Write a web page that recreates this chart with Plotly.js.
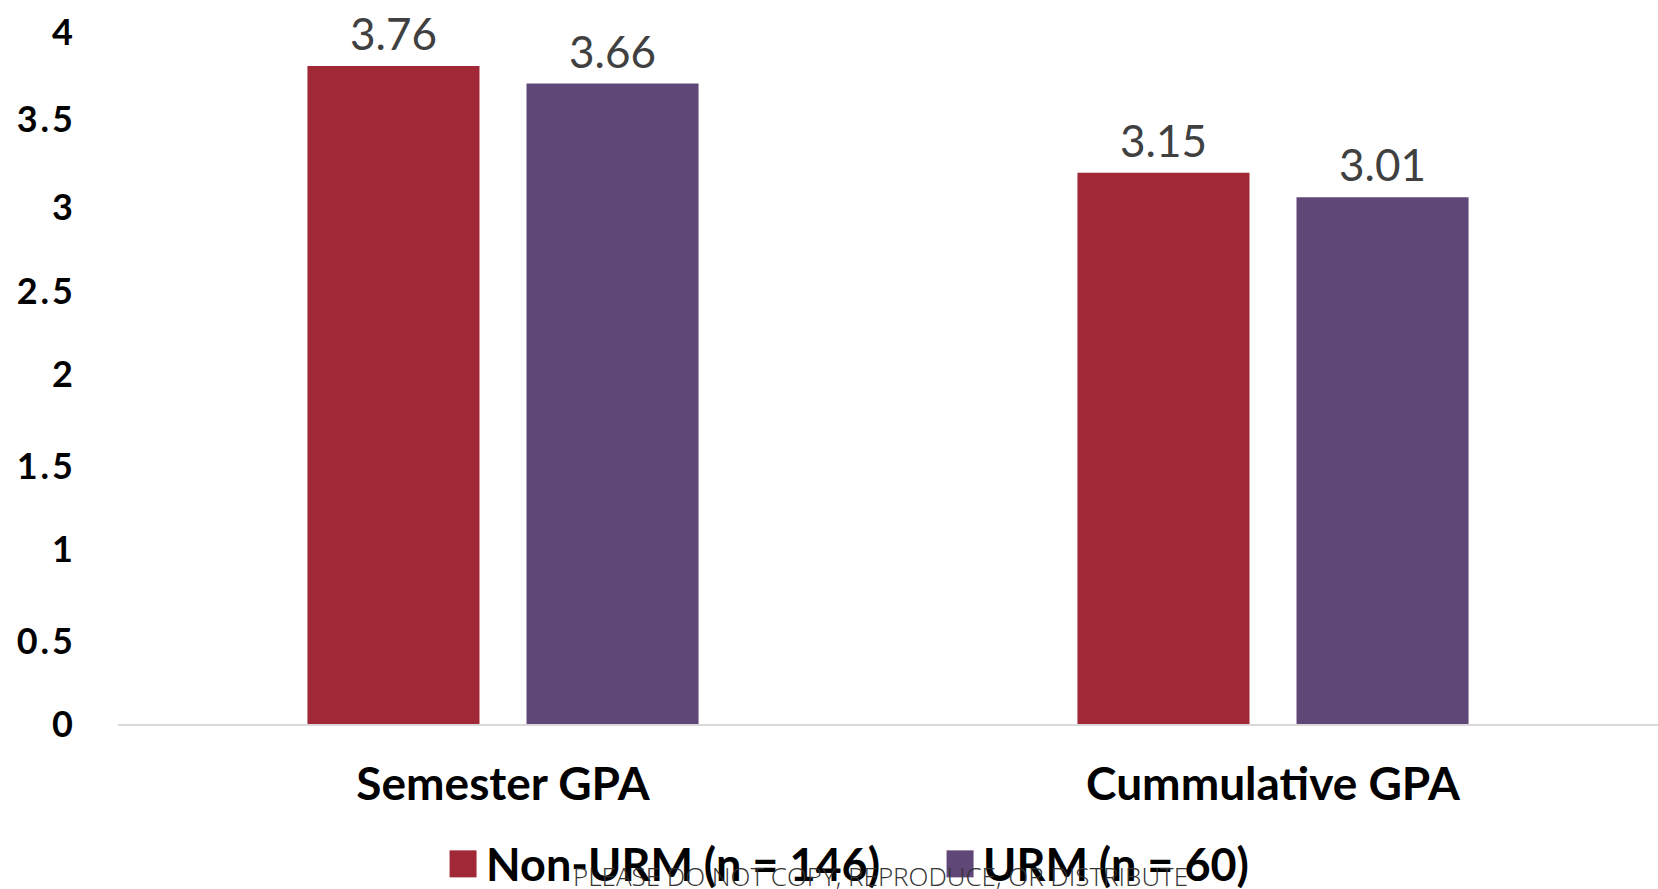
<!DOCTYPE html>
<html>
<head>
<meta charset="utf-8">
<script src="https://cdn.plot.ly/plotly-3.0.1.min.js"></script>
<style>
html,body{margin:0;padding:0;background:#fff;}
#chart{width:1658px;height:889px;}
#chart .ytick text{letter-spacing:3px;}
</style>
</head>
<body>
<div id="chart"></div>
<script>
const categories = ["Semester GPA", "Cummulative GPA"];
const nonUrmName = "Non-URM (n = 146)";
const nonUrmValues = [3.76, 3.15];
const urmName = "URM (n = 60)";
const urmValues = [3.66, 3.01];
const yTickVals = [0, 0.5, 1, 1.5, 2, 2.5, 3, 3.5, 4];
const yTickText = ["0", "0.5", "1", "1.5", "2", "2.5", "3", "3.5", "4"];
const watermark = "PLEASE DO NOT COPY, REPRODUCE, OR DISTRIBUTE";

const fontFam = "Lato, 'Open Sans', sans-serif";

const traces = [
  {
    type: "bar", name: nonUrmName, x: categories, y: nonUrmValues,
    marker: {color: "#A12836"},
    text: nonUrmValues.map(v => v.toFixed(2)), textposition: "outside",
    textfont: {family: fontFam, size: 44, color: "#404040"},
    cliponaxis: false, hoverinfo: "none"
  },
  {
    type: "bar", name: urmName, x: categories, y: urmValues,
    marker: {color: "#5F4777"},
    text: urmValues.map(v => v.toFixed(2)), textposition: "outside",
    textfont: {family: fontFam, size: 44, color: "#404040"},
    cliponaxis: false, hoverinfo: "none"
  }
];

const layout = {
  width: 1658, height: 889,
  margin: {l: 118, r: 0, t: 24, b: 165, pad: 0, autoexpand: false},
  paper_bgcolor: "#ffffff", plot_bgcolor: "#ffffff",
  barmode: "group", bargap: 0.431, bargroupgap: 0.2146,
  showlegend: true,
  legend: {
    orientation: "h", xref: "container", yref: "container",
    x: 0.263, xanchor: "left", y: 0.028, yanchor: "middle",
    font: {family: fontFam, size: 45, color: "#000000", weight: 700},
    itemwidth: 40, entrywidth: 442, traceorder: "normal", tracegroupgap: 0
  },
  xaxis: {
    showline: true, linecolor: "#D9D9D9", linewidth: 2,
    showgrid: false, zeroline: false, ticks: "",
    ticklabelstandoff: 19,
    tickfont: {family: fontFam, size: 46, color: "#000000", weight: 700}
  },
  yaxis: {
    range: [0, 4], tickvals: yTickVals, ticktext: yTickText,
    showgrid: false, zeroline: false, showline: false, ticks: "",
    ticklabelstandoff: 41,
    tickfont: {family: fontFam, size: 36, color: "#000000", weight: 700}
  },
  annotations: [{
    text: watermark, xref: "paper", yref: "paper",
    x: 0.495, y: -0.217, xanchor: "center", yanchor: "middle",
    showarrow: false,
    font: {family: "'Open Sans', sans-serif", size: 26, color: "#333333", weight: 300}
  }]
};

function nudge(el, dy) {
  const t = el.getAttribute("transform") || "";
  el.setAttribute("transform", (t + " translate(0," + dy + ")").trim());
}

Plotly.newPlot("chart", traces, layout, {displayModeBar: false, staticPlot: true}).then(function(gd) {
  gd.querySelectorAll(".legendpoints path").forEach(function(p) {
    p.setAttribute("transform", "translate(27,0) scale(2.25)");
  });
  // old-style numerals in the original sit lower for 3, 4, 5
  gd.querySelectorAll(".ytick text").forEach(function(t) {
    const s = t.textContent;
    if (/[34]/.test(s)) nudge(t, 8);
    else if (/5/.test(s)) nudge(t, 5);
  });
  gd.querySelectorAll("text.bartext").forEach(function(t) { nudge(t, -4); });
});
</script>
</body>
</html>
